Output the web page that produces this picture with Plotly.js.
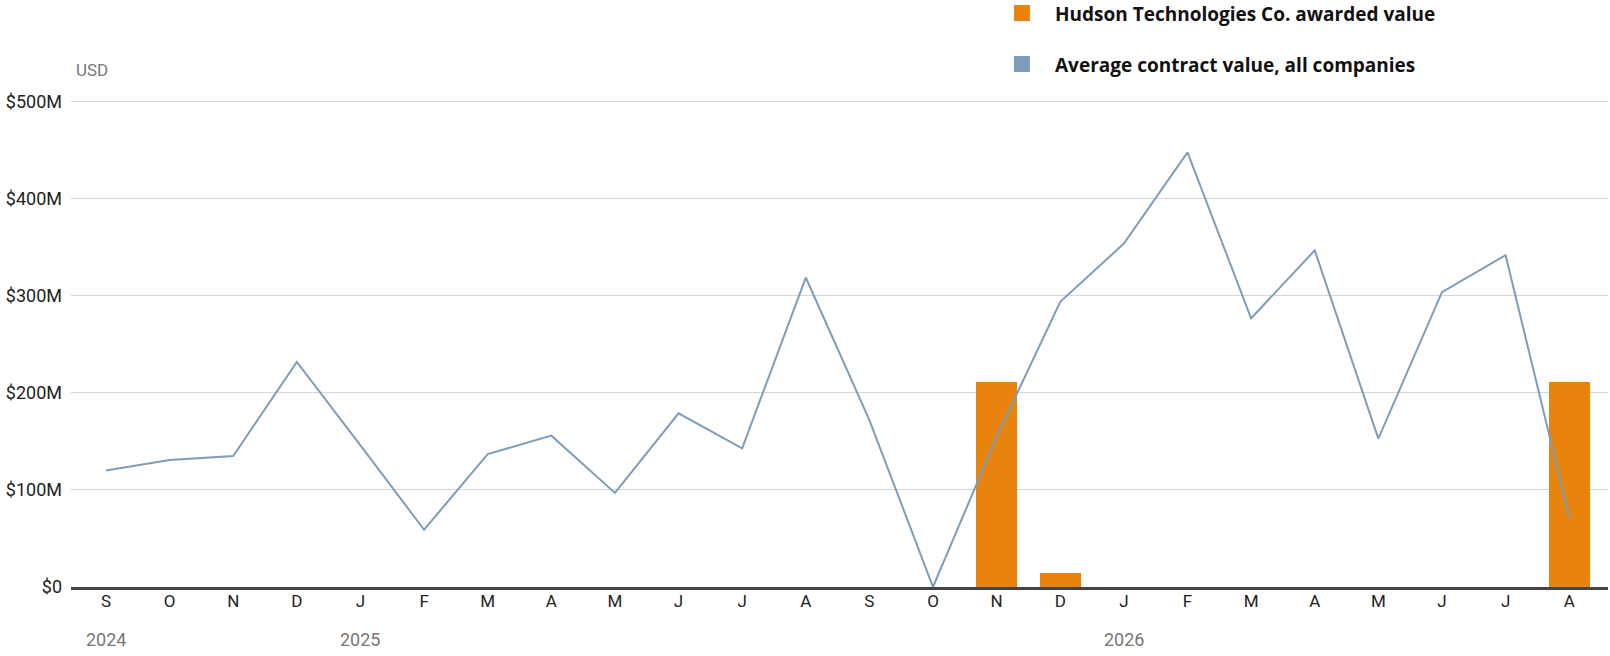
<!DOCTYPE html>
<html>
<head>
<meta charset="utf-8">
<script src="https://cdn.plot.ly/plotly-3.0.1.min.js"></script>
<style>
  html, body { margin: 0; padding: 0; background: #fff; }
  #chart { width: 1610px; height: 656px; }
</style>
</head>
<body>
<div id="chart"></div>
<script>
// months Sep 2024 .. Aug 2026
var months = ["2024-09","2024-10","2024-11","2024-12","2025-01","2025-02","2025-03","2025-04",
              "2025-05","2025-06","2025-07","2025-08","2025-09","2025-10","2025-11","2025-12",
              "2026-01","2026-02","2026-03","2026-04","2026-05","2026-06","2026-07","2026-08"];
var monthLetters = ["S","O","N","D","J","F","M","A","M","J","J","A",
                    "S","O","N","D","J","F","M","A","M","J","J","A"];

// values in millions of USD
var avgContract = [120, 131, 135, 232, 146, 59, 137, 156, 97, 179, 143, 319,
                   172, 0, 155, 294, 354, 448, 277, 347, 153, 304, 342, 72];
var hudsonAwarded = [null, null, null, null, null, null, null, null, null, null, null, null,
                     null, null, 211, 14, null, null, null, null, null, null, null, 211];

var yTicks = [0, 100, 200, 300, 400, 500];
var yearLabels = [{month: "2024-09", text: "2024"}, {month: "2025-01", text: "2025"}, {month: "2026-01", text: "2026"}];

var ORANGE = "#e8830c";
var BLUE = "#7c9dbc";
var FONT = "Roboto, 'Liberation Sans', sans-serif";
var LEGEND_FONT = "'Open Sans', Roboto, sans-serif";

var xIdx = months.map(function(m, i){ return i; });

var bars = {
  x: xIdx,
  y: hudsonAwarded,
  type: "bar",
  width: 0.65,
  marker: {color: ORANGE},
  showlegend: false,
  hoverinfo: "y"
};

var line = {
  x: xIdx,
  y: avgContract,
  type: "scatter",
  mode: "lines",
  line: {color: BLUE, width: 2},
  showlegend: false,
  hoverinfo: "y"
};

var annotations = yearLabels.map(function(yl){
  return {
    x: months.indexOf(yl.month), xref: "x",
    y: 0, yref: "paper", yanchor: "middle", yshift: -52,
    text: yl.text, showarrow: false,
    font: {family: FONT, size: 18, color: "#777"}
  };
});

annotations.push({
  x: 0, xref: "paper", xanchor: "left", xshift: 3,
  y: 1, yref: "paper", yanchor: "middle", yshift: 30,
  text: "USD", showarrow: false,
  font: {family: FONT, size: 17, color: "#777"}
});

// legend drawn by hand: square + bold label
var legendItems = [
  {text: "Hudson Technologies Co. awarded value", color: ORANGE, y: 1.1786},
  {text: "Average contract value, all companies", color: BLUE, y: 1.0739}
];
var shapes = [];
legendItems.forEach(function(it){
  shapes.push({
    type: "rect", xref: "paper", yref: "paper",
    xsizemode: "pixel", ysizemode: "pixel",
    xanchor: 0.6187, yanchor: it.y,
    x0: -8, x1: 8, y0: -8, y1: 8,
    fillcolor: it.color, line: {width: 0}
  });
  annotations.push({
    x: 0.6389, xref: "paper", xanchor: "left",
    y: it.y, yref: "paper", yanchor: "middle", yshift: -1,
    text: "<b>" + it.text + "</b>", showarrow: false,
    font: {family: LEGEND_FONT, size: 19, color: "#111", weight: 800}
  });
});

var layout = {
  width: 1610, height: 656,
  margin: {l: 71, r: 2, t: 100, b: 69},
  paper_bgcolor: "#fff",
  plot_bgcolor: "#fff",
  bargap: 0,
  xaxis: {
    range: [-0.55, 23.61],
    tickvals: xIdx,
    ticktext: monthLetters,
    showgrid: false,
    zeroline: false,
    showline: true,
    linecolor: "#444",
    linewidth: 2.5,
    ticks: "",
    ticklabelstandoff: -3,
    tickfont: {family: FONT, size: 17, color: "#222"},
    fixedrange: true
  },
  yaxis: {
    range: [0, 502],
    tickvals: yTicks,
    ticktext: yTicks.map(function(v){ return v === 0 ? "$0" : "$" + v + "M"; }),
    showgrid: true,
    gridcolor: "#d6d6d6",
    gridwidth: 1,
    zeroline: false,
    ticks: "",
    ticklabelstandoff: 8,
    tickfont: {family: FONT, size: 18, color: "#222"},
    fixedrange: true
  },
  annotations: annotations,
  shapes: shapes,
  hovermode: "closest"
};

Plotly.newPlot("chart", [bars, line], layout, {displayModeBar: false, staticPlot: true});
</script>
</body>
</html>
